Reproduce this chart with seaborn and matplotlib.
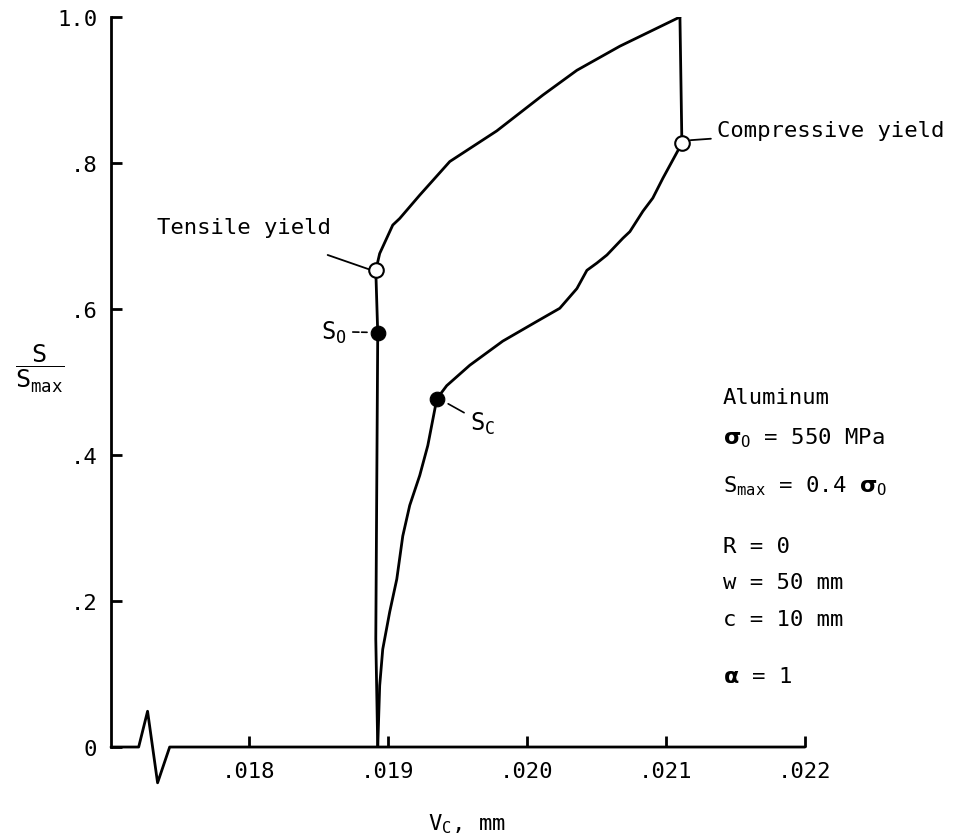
import matplotlib
matplotlib.use("Agg")
import matplotlib.pyplot as plt
import numpy as np
import pandas as pd
import seaborn as sns

# 荷重 - 開口変位ループ
load_v = [0.018928, 0.018914, 0.018928, 0.018914, 0.018942, 0.019036, 0.019086,
          0.019230, 0.019446, 0.019784, 0.020115, 0.020360, 0.020669, 0.021101]
load_s = [0.0, 0.148, 0.567, 0.653, 0.676, 0.715, 0.724,
          0.756, 0.802, 0.844, 0.893, 0.927, 0.960, 1.0]

unload_v = [0.021101, 0.021115, 0.020978, 0.020906, 0.020835, 0.020741, 0.020691,
            0.020576, 0.020504, 0.020432, 0.020360, 0.020237, 0.020072, 0.019827,
            0.019590, 0.019424, 0.019353, 0.019288, 0.019230, 0.019158, 0.019108,
            0.019065, 0.019014, 0.018964, 0.018942, 0.018928]
unload_s = [1.0, 0.827, 0.779, 0.752, 0.734, 0.706, 0.697,
            0.674, 0.663, 0.653, 0.628, 0.601, 0.583, 0.556,
            0.523, 0.495, 0.477, 0.413, 0.372, 0.331, 0.289,
            0.230, 0.185, 0.134, 0.084, 0.0]

# 特性点
open_v = [0.018914, 0.021115]    # tensile yield, compressive yield
open_s = [0.653, 0.827]
filled_v = [0.018928, 0.019353]  # S_o, S_c
filled_s = [0.567, 0.477]

xticks = [0.018, 0.019, 0.020, 0.021, 0.022]
xticklabels = ['.018', '.019', '.020', '.021', '.022']
yticks = [0, 0.2, 0.4, 0.6, 0.8, 1.0]
yticklabels = ['0', '.2', '.4', '.6', '.8', '1.0']

params = ['Aluminum',
          r'$\mathbf{σ}_{\mathrm{O}}$ = 550 MPa',
          r'S$_{\mathrm{max}}$ = 0.4 $\mathbf{σ}_{\mathrm{O}}$',
          'R = 0', 'w = 50 mm', 'c = 10 mm',
          r'$\mathbf{α}$ = 1']
param_y = [0.480, 0.425, 0.358, 0.276, 0.226, 0.176, 0.097]

sns.set_style('ticks')
plt.rcParams['font.family'] = ['DejaVu Sans Mono', 'DejaVu Sans']
plt.rcParams['text.color'] = 'black'
plt.rcParams['xtick.color'] = 'black'
plt.rcParams['ytick.color'] = 'black'
plt.rcParams['axes.labelcolor'] = 'black'
plt.rcParams['mathtext.fontset'] = 'custom'
plt.rcParams['mathtext.rm'] = 'DejaVu Sans Mono'
plt.rcParams['mathtext.it'] = 'DejaVu Sans Mono'
plt.rcParams['mathtext.bf'] = 'DejaVu Sans:bold'

fig = plt.figure(figsize=(9.66, 8.37), dpi=100)
ax = fig.add_axes([0.1149, 0.1063, 0.7184, 0.8722])

df = pd.DataFrame({
    'v': load_v + unload_v,
    's': load_s + unload_s,
    'path': ['load'] * len(load_v) + ['unload'] * len(unload_v),
})
for p in ['load', 'unload']:
    sns.lineplot(data=df[df['path'] == p], x='v', y='s', sort=False,
                 color='black', lw=2.0, ax=ax, estimator=None)

sns.scatterplot(x=filled_v, y=filled_s, color='black', s=110, edgecolor='black',
                zorder=5, ax=ax)
sns.scatterplot(x=open_v, y=open_s, facecolor='white', edgecolor='black', s=110,
                linewidth=1.5, zorder=5, ax=ax)

ax.set_xlim(0.01701, 0.022)
ax.set_ylim(0, 1.0)
ax.set_xticks(xticks)
ax.set_xticklabels(xticklabels)
ax.set_yticks(yticks)
ax.set_yticklabels(yticklabels)
ax.tick_params(direction='in', length=8, width=2, labelsize=16, pad=10)

sns.despine(ax=ax)
ax.spines['left'].set_linewidth(2)
ax.spines['left'].set_color('black')
ax.spines['bottom'].set_visible(False)

# 軸の省略記号付き横軸
brk_v = [0.01701, 0.017209, 0.017273, 0.017345, 0.017432, 0.022]
brk_s = [0.0, 0.0, 0.049, -0.049, 0.0, 0.0]
ax.plot(brk_v, brk_s, color='black', lw=2, clip_on=False, zorder=4)

ax.set_xlabel(r'V$_{\mathrm{C}}$, mm', fontsize=16)
ax.xaxis.set_label_coords(0.513, -0.088)
ax.set_ylabel(r'$\dfrac{\mathrm{S}}{\mathrm{S}_{\mathrm{max}}}$', fontsize=18, rotation=0,
              va='center', ha='center')
ax.yaxis.set_label_coords(-0.102, 0.519)

# 注記
ax.text(0.017338, 0.713, 'Tensile yield', fontsize=16, ha='left', va='center')
ax.annotate('', xy=(0.018871, 0.654), xytext=(0.018568, 0.674),
            arrowprops=dict(arrowstyle='-', color='black', lw=1.3,
                            shrinkA=0, shrinkB=0))
ax.annotate('Compressive yield', xy=(0.021158, 0.831), xytext=(0.021367, 0.845),
            fontsize=16, ha='left', va='center',
            arrowprops=dict(arrowstyle='-', color='black', lw=1.3),
            annotation_clip=False)
ax.annotate(r'S$_{\mathrm{O}}$', xy=(0.018871, 0.568), xytext=(0.018705, 0.569),
            fontsize=17, ha='right', va='center',
            arrowprops=dict(arrowstyle='-', color='black', lw=1.2, ls='--'))
ax.annotate(r'S$_{\mathrm{C}}$', xy=(0.019417, 0.472), xytext=(0.019590, 0.462),
            fontsize=17, ha='left', va='top',
            arrowprops=dict(arrowstyle='-', color='black', lw=1.2))

for txt, yy in zip(params, param_y):
    ax.text(0.02141, yy, txt, fontsize=16, ha='left', va='center')

fig.savefig('out.png', dpi=100)
